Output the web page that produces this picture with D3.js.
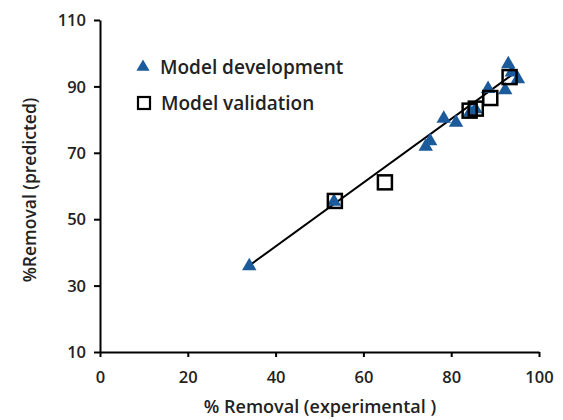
<!DOCTYPE html>
<html><head><meta charset="utf-8">
<script src="https://cdn.jsdelivr.net/npm/d3@7"></script>
<style>body{margin:0;background:#fff}svg{display:block}text{font-family:"Open Sans","Liberation Sans",sans-serif;font-weight:600;fill:#222}</style>
</head><body><svg id="c" width="563" height="420"></svg>
<script>
const devX = [34, 53.3, 74.2, 75.2, 78.3, 81.1, 84.3, 85.5, 88.4, 92.3, 93.0, 95.2, 93.8];
const devY = [36.2, 55.6, 72.2, 73.8, 80.6, 79.4, 82.5, 83.5, 89.6, 89.2, 97.0, 92.5, 94.5];
const valX = [53.5, 64.9, 84.2, 85.6, 88.9, 93.3];
const valY = [55.5, 61.1, 82.7, 83.3, 86.5, 92.8];
const fitSlope = 0.96, fitIntercept = 3.4, fitRange = [34, 95];
const xTicks = [0, 20, 40, 60, 80, 100];
const yTicks = [10, 30, 50, 70, 90, 110];
const legendLabels = ["Model development", "Model validation"];
const xTitle = "% Removal (experimental )";
const yTitle = "%Removal  (predicted)";

const svg = d3.select("#c");
const x = d3.scaleLinear().domain([0, 100]).range([100, 539]);
const y = d3.scaleLinear().domain([10, 110]).range([352, 20]);
const blue = "#1c5b9b";

// fit line
const fx = fitRange.map(v => ({x: v, y: fitSlope * v + fitIntercept}));
svg.append("path").attr("d", d3.line().x(d => x(d.x)).y(d => y(d.y))(fx))
  .attr("stroke", "#000").attr("stroke-width", 2).attr("fill", "none");

// dev triangles
const tri = d3.symbol().type(d3.symbolTriangle).size(90);
svg.append("g").selectAll("path").data(devX.map((v, i) => [v, devY[i]])).join("path")
  .attr("d", tri).attr("transform", d => `translate(${x(d[0])},${y(d[1]) + 1})`).attr("fill", blue);

// validation squares
const s = 14;
svg.append("g").selectAll("rect").data(valX.map((v, i) => [v, valY[i]])).join("rect")
  .attr("x", d => x(d[0]) - s / 2).attr("y", d => y(d[1]) - s / 2).attr("width", s).attr("height", s)
  .attr("fill", "none").attr("stroke", "#000").attr("stroke-width", 2.5);

// axes
const xa = svg.append("g").attr("transform", "translate(0,352)")
  .call(d3.axisBottom(x).tickValues(xTicks).tickSize(5).tickSizeOuter(0).tickPadding(14));
const ya = svg.append("g").attr("transform", "translate(100,0)")
  .call(d3.axisLeft(y).tickValues(yTicks).tickSize(6).tickSizeOuter(0).tickPadding(8));
[xa, ya].forEach(a => {
  a.select(".domain").attr("stroke", "#000").attr("stroke-width", 2);
  a.selectAll(".tick line").attr("stroke", "#000").attr("stroke-width", 2);
  a.selectAll("text").attr("font-size", 16.5).attr("font-weight", 700).attr("fill", "#222");
});
ya.selectAll("text").attr("dy", "0.35em");

svg.append("text").attr("x", 320).attr("y", 413).attr("text-anchor", "middle").attr("font-size", 18).text(xTitle);
svg.append("text").attr("transform", "translate(36,190) rotate(-90)").attr("text-anchor", "middle").attr("font-size", 17.5).text(yTitle);

// legend
svg.append("path").attr("d", d3.symbol().type(d3.symbolTriangle).size(75)).attr("transform", "translate(143,67)").attr("fill", blue);
svg.append("rect").attr("x", 138).attr("y", 97).attr("width", 12).attr("height", 12).attr("fill", "none").attr("stroke", "#000").attr("stroke-width", 2.2);
svg.append("text").attr("x", 160).attr("y", 74).attr("font-size", 19).text(legendLabels[0]);
svg.append("text").attr("x", 161).attr("y", 110).attr("font-size", 19).text(legendLabels[1]);
</script></body></html>
